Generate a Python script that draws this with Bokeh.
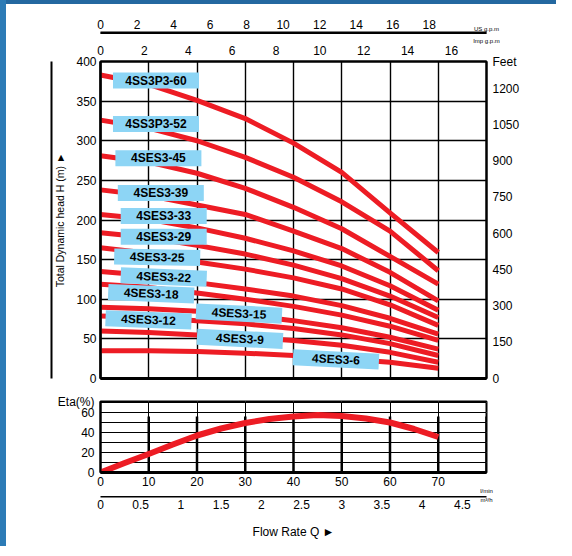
from bokeh.plotting import figure
from bokeh.layouts import column, row
from bokeh.models import (Range1d, LinearAxis, FixedTicker, Grid, Spacer, Span,
                          NumeralTickFormatter, ColumnDataSource)
from bokeh.core.properties import value
from bokeh.embed import file_html
from bokeh.resources import INLINE

# ---------------- data ----------------
flow_lpm = [0, 10, 20, 30, 40, 50, 60, 70]

model_names = ["4SS3P3-60", "4SS3P3-52", "4SES3-45", "4SES3-39", "4SES3-33", "4SES3-29",
               "4SES3-25", "4SES3-22", "4SES3-18", "4SES3-15", "4SES3-12", "4SES3-9", "4SES3-6"]

head_60 = [383, 371, 351, 328, 297, 260, 209, 159]
head_52 = [326, 316, 300, 279, 254, 223, 186, 136]
head_45 = [281, 273, 259, 240, 216, 189, 154, 119]
head_39 = [238, 231, 219, 207, 186, 164, 134, 98]
head_33 = [207, 201, 190, 177, 161, 142, 117, 86]
head_29 = [184, 178, 168, 157, 143, 126, 104, 77]
head_25 = [165, 158, 147, 138, 127, 113, 93, 67]
head_22 = [135, 130, 121, 113, 104, 92, 76, 56]
head_18 = [119, 115, 108, 100, 91, 80, 66, 48]
head_15 = [90, 88, 85, 80, 73, 64, 52, 37]
head_12 = [79, 77, 73, 69, 63, 55, 44, 29]
head_9 = [60, 58, 55, 52, 48, 42, 33, 20.5]
head_6 = [35, 35, 34, 32, 29, 25, 20.5, 13]
head_curves = [head_60, head_52, head_45, head_39, head_33, head_29, head_25,
               head_22, head_18, head_15, head_12, head_9, head_6]

# label anchor (flow l/min, head m) and tilt (rad)
label_q = [11.5, 11.5, 12.0, 12.5, 13.1, 13.1, 11.75, 13.1, 10.5, 28.7, 9.95, 28.9, 48.8]
label_h = [376, 321, 278, 234, 205, 179, 153, 128, 107, 82, 74, 50, 24]
label_tilt = [0, 0, 0, 0, 0, 0, -0.02, -0.04, -0.04, -0.05, -0.04, -0.05, -0.05]

eta_q = [0, 5, 10, 15, 20, 25, 30, 35, 40, 45, 50, 55, 60, 65, 70]
eta_pct = [0, 9.5, 18.5, 28, 37, 44, 49.5, 53.5, 56, 57.5, 56.5, 54, 50, 43.5, 35.5]

head_ticks = [0, 50, 100, 150, 200, 250, 300, 350, 400]
feet_ticks = [0, 150, 300, 450, 600, 750, 900, 1050, 1200]
us_gpm_ticks = [0, 2, 4, 6, 8, 10, 12, 14, 16, 18]
imp_gpm_ticks = [0, 2, 4, 6, 8, 10, 12, 14, 16]
lpm_ticks = [0, 10, 20, 30, 40, 50, 60, 70]
m3h_ticks = [0, 0.5, 1, 1.5, 2, 2.5, 3, 3.5, 4, 4.5]
eta_ticks = [0, 20, 40, 60]

# ---------------- style ----------------
FONT = "Liberation Sans"
RED = "#ED1C24"
BLUE = "#8DD5F5"
FT_PER_M = 1 / 0.3048
LPM_PER_USGPM = 3.785
LPM_PER_IMPGPM = 4.546
LPM_PER_M3H = 1000 / 60


def style_axis(ax, size="12px"):
    ax.major_label_text_font = FONT
    ax.major_label_text_font_size = size
    ax.major_label_text_color = "black"
    ax.major_tick_line_color = None
    ax.major_tick_out = 0
    ax.major_tick_in = 0
    ax.minor_tick_line_color = None
    ax.minor_tick_out = 0
    ax.minor_tick_in = 0
    ax.axis_label_text_font = FONT
    ax.axis_label_text_font_style = "normal"
    ax.axis_label_text_font_size = "12px"
    ax.axis_label_text_color = "black"
    ax.axis_line_color = "black"


def tiny_label(ax, text, standoff):
    ax.axis_label = text
    ax.axis_label_text_font_size = "6px"
    ax.axis_label_standoff = int(standoff)
    try:
        ax.axis_label_align = "end"
        ax.axis_label_text_align = "right"
    except (AttributeError, ValueError):
        pass


def rule_axis(width):
    ax = LinearAxis(ticker=FixedTicker(ticks=[]))
    style_axis(ax)
    ax.axis_line_width = width
    return ax


def rule_fig(height, top, bottom, x_end):
    # a thin figure whose frame edge carries a horizontal rule
    f = figure(width=550, height=height, x_range=Range1d(0, x_end), y_range=Range1d(0, 1),
               output_backend="svg", toolbar_location=None, title=None,
               min_border_left=94, min_border_right=70, min_border_top=top,
               min_border_bottom=bottom, x_axis_location=None, y_axis_location=None,
               background_fill_color="black")
    f.outline_line_color = None
    f.add_layout(Span(location=0.5, dimension="width", line_color="black", line_width=2))
    return f


# ---------------- US gpm scale (rule + labels) ----------------
p0 = rule_fig(30, 28, 0, 80 / LPM_PER_USGPM)
ax_us = LinearAxis(ticker=FixedTicker(ticks=us_gpm_ticks))
style_axis(ax_us)
ax_us.axis_line_width = 2
ax_us.major_label_standoff = 4
tiny_label(ax_us, "US g.p.m", -15)
p0.add_layout(ax_us, "above")

# ---------------- head chart ----------------
p1 = figure(width=550, height=360, x_range=Range1d(0, 80), y_range=Range1d(0, 400),
            output_backend="svg", toolbar_location=None, title=None,
            min_border_left=94, min_border_right=70, min_border_top=26, min_border_bottom=16,
            x_axis_location=None, y_axis_location=None)
p1.outline_line_color = "black"
p1.outline_line_width = 2
p1.extra_y_ranges = {"feet": Range1d(0, 400 * FT_PER_M)}
p1.extra_x_ranges = {"imp": Range1d(0, 80 / LPM_PER_IMPGPM)}

ax_h = LinearAxis(ticker=FixedTicker(ticks=head_ticks), axis_label="Total Dynamic head H (m) ►")
style_axis(ax_h)
ax_h.axis_label_text_font_size = "10.5px"
ax_h.axis_line_width = 2.5
ax_h.major_label_standoff = 4
ax_h.axis_label_standoff = 7
p1.add_layout(ax_h, "left")
p1.add_layout(rule_axis(2), "left")

ax_ft = LinearAxis(y_range_name="feet", ticker=FixedTicker(ticks=feet_ticks + [1312]),
                   major_label_overrides={1312: "Feet"})
style_axis(ax_ft)
ax_ft.axis_line_width = 2
ax_ft.major_label_standoff = 6
p1.add_layout(ax_ft, "right")

p1.add_layout(rule_axis(3), "below")

ax_imp = LinearAxis(x_range_name="imp", ticker=FixedTicker(ticks=imp_gpm_ticks))
style_axis(ax_imp)
ax_imp.axis_line_width = 2
ax_imp.major_label_standoff = 7
tiny_label(ax_imp, "Imp g.p.m", -1)
p1.add_layout(ax_imp, "above")

p1.add_layout(Grid(dimension=0, ticker=FixedTicker(ticks=lpm_ticks[1:]),
                   grid_line_color="black", grid_line_width=1.4))
p1.add_layout(Grid(dimension=1, ticker=FixedTicker(ticks=head_ticks[1:-1]),
                   grid_line_color="black", grid_line_width=1.4))

for h in head_curves:
    p1.line(flow_lpm, h, line_color=RED, line_width=5, line_join="round")

src = ColumnDataSource(dict(q=label_q, h=label_h, name=model_names, tilt=label_tilt))
p1.rect(x="q", y="h", width=86, height=16, width_units="screen", height_units="screen",
        angle="tilt", fill_color=BLUE, line_color=None, source=src)
p1.text(x="q", y="h", text="name", angle="tilt", text_align="center", text_baseline="middle",
        text_font=value(FONT), text_font_style="bold", text_font_size="12px",
        text_color="black", source=src)

# ---------------- efficiency chart ----------------
p2 = figure(width=550, height=102, x_range=Range1d(0, 80), y_range=Range1d(0, 71),
            output_backend="svg", toolbar_location=None, title=None,
            min_border_left=94, min_border_right=70, min_border_top=7, min_border_bottom=23,
            x_axis_location=None, y_axis_location=None)
p2.outline_line_color = "black"
p2.outline_line_width = 2

ax_eta = LinearAxis(ticker=FixedTicker(ticks=eta_ticks + [71]), major_label_overrides={71: "Eta(%)"})
style_axis(ax_eta)
ax_eta.axis_line_width = 2
ax_eta.major_label_standoff = 6
p2.add_layout(ax_eta, "left")

ax_lpm = LinearAxis(ticker=FixedTicker(ticks=lpm_ticks))
style_axis(ax_lpm)
ax_lpm.axis_line_width = 3
ax_lpm.major_label_standoff = 4
tiny_label(ax_lpm, "l/min", -1)
p2.add_layout(ax_lpm, "below")

p2.add_layout(Grid(dimension=0, ticker=FixedTicker(ticks=lpm_ticks[1:]),
                   grid_line_color="black", grid_line_width=1))
p2.add_layout(Grid(dimension=1, ticker=FixedTicker(ticks=[10, 20, 30, 40, 50, 60, 70]),
                   grid_line_color="black", grid_line_width=1))

bar_x = lpm_ticks[1:] + [80]
p2.segment(x0=bar_x, y0=[0] * len(bar_x), x1=bar_x, y1=[56] * len(bar_x),
           line_color="black", line_width=2.5)

p2.line(eta_q, eta_pct, line_color=RED, line_width=6, line_join="round")

# ---------------- m3/h scale (rule + labels + title) ----------------
p3 = rule_fig(45, 0, 43, 80 / LPM_PER_M3H)
ax_m3h = LinearAxis(ticker=FixedTicker(ticks=m3h_ticks),
                    formatter=NumeralTickFormatter(format="0.[0]"))
style_axis(ax_m3h)
ax_m3h.axis_line_width = 2
ax_m3h.major_label_standoff = 3
tiny_label(ax_m3h, "m³/h", -15)
p3.add_layout(ax_m3h, "below")

ax_q = LinearAxis(ticker=FixedTicker(ticks=[]), axis_label="Flow Rate Q ►")
style_axis(ax_q)
ax_q.axis_line_color = None
ax_q.axis_label_standoff = 19
p3.add_layout(ax_q, "below")

p4 = rule_fig(4, 1, 1, 80)
p4.add_layout(rule_axis(2), "below")

left_strip = Spacer(width=6, height=546, styles={"background-color": "#2C7BB6"})
top_strip = Spacer(width=550, height=4, styles={"background-color": "#2468A0"})
layout = row(left_strip, column(top_strip, p0, p1, p2, p3, p4))
open("out.html", "w").write(file_html(layout, INLINE))
